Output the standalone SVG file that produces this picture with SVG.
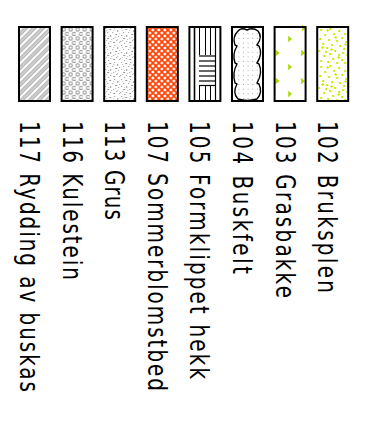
<svg xmlns="http://www.w3.org/2000/svg" width="372" height="427" viewBox="0 0 372 427">
<style>
.frame{fill:none;stroke:#000;stroke-width:2}
.lbl{font-family:"DejaVu Sans",sans-serif;font-size:20px;fill:#000}
.ln{stroke:#000;fill:none}
</style>
<defs>
<pattern id="p117" width="6" height="6" patternUnits="userSpaceOnUse" patternTransform="rotate(45)">
<line x1="1" y1="0" x2="1" y2="6" stroke="#999" stroke-width="1.2"/>
<line x1="3.2" y1="0" x2="3.2" y2="6" stroke="#999" stroke-width="1.2"/>
</pattern>
<pattern id="p116" x="61.6" y="27" width="7" height="9" patternUnits="userSpaceOnUse">
<circle cx="2" cy="2.5" r="1.7" fill="none" stroke="#999" stroke-width="1.1"/>
<circle cx="5.5" cy="7" r="1.7" fill="none" stroke="#999" stroke-width="1.1"/>
</pattern>
<pattern id="p113" x="104.2" y="27" width="16" height="17" patternUnits="userSpaceOnUse">
<g fill="#999">
<rect x="1" y="1" width="1" height="1"/><rect x="5" y="2" width="2" height="1"/><rect x="10" y="1" width="1" height="1"/>
<rect x="13" y="3" width="1" height="2"/><rect x="3" y="5" width="1" height="1"/><rect x="8" y="5" width="1" height="1"/>
<rect x="11" y="7" width="2" height="1"/><rect x="1" y="8" width="1" height="1"/><rect x="6" y="8" width="1" height="2"/>
<rect x="14" y="9" width="1" height="1"/><rect x="3" y="11" width="2" height="1"/><rect x="9" y="11" width="1" height="1"/>
<rect x="12" y="13" width="1" height="1"/><rect x="0" y="14" width="1" height="1"/><rect x="6" y="14" width="1" height="1"/>
<rect x="9" y="15" width="2" height="1"/><rect x="15" y="15" width="1" height="1"/><rect x="4" y="16" width="1" height="1"/>
</g>
<g fill="#bbb">
<rect x="2" y="3" width="1" height="1"/><rect x="9" y="3" width="1" height="1"/><rect x="15" y="6" width="1" height="1"/>
<rect x="4" y="9" width="1" height="1"/><rect x="11" y="10" width="1" height="1"/><rect x="7" y="12" width="1" height="1"/>
<rect x="13" y="12" width="1" height="1"/><rect x="2" y="13" width="1" height="1"/>
</g>
</pattern>
<pattern id="p107" x="146.8" y="27" width="6" height="6" patternUnits="userSpaceOnUse">
<rect width="6" height="6" fill="#fff"/>
<path d="M-1,-1L7,7M7,-1L-1,7" stroke="#ff4000" stroke-width="1.7"/>
</pattern>
<pattern id="pdots" x="232" y="27" width="4.6" height="4.6" patternUnits="userSpaceOnUse">
<rect width="4.6" height="4.6" fill="#fff"/>
<circle cx="2.3" cy="2.3" r="0.55" fill="#999"/>
</pattern>
<pattern id="p102" x="317.2" y="27" width="31" height="37" patternUnits="userSpaceOnUse">
<g fill="#c6f000">
<rect x="3" y="2" width="2" height="2"/><rect x="12" y="1" width="2" height="2"/><rect x="21" y="3" width="2" height="2"/>
<rect x="27" y="6" width="2" height="2"/><rect x="7" y="7" width="2" height="2"/><rect x="16" y="6" width="2" height="2"/>
<rect x="24" y="10" width="2" height="2"/><rect x="2" y="11" width="2" height="2"/><rect x="11" y="12" width="2" height="2"/>
<rect x="19" y="13" width="2" height="2"/><rect x="28" y="14" width="2" height="2"/><rect x="5" y="16" width="2" height="2"/>
<rect x="14" y="17" width="2" height="2"/><rect x="22" y="18" width="2" height="2"/><rect x="9" y="20" width="2" height="2"/>
<rect x="26" y="21" width="2" height="2"/><rect x="1" y="23" width="2" height="2"/><rect x="17" y="23" width="2" height="2"/>
<rect x="12" y="26" width="2" height="2"/><rect x="21" y="27" width="2" height="2"/><rect x="29" y="27" width="2" height="2"/>
<rect x="6" y="28" width="2" height="2"/><rect x="15" y="31" width="2" height="2"/><rect x="24" y="32" width="2" height="2"/>
<rect x="3" y="33" width="2" height="2"/><rect x="10" y="34" width="2" height="2"/><rect x="19" y="35" width="2" height="2"/>
<rect x="27" y="35" width="2" height="2"/><rect x="8" y="24" width="2" height="2"/><rect x="25" y="25" width="2" height="2"/>
<path d="M9,3h1v-1h1v1h1v1h-1v1h-1v-1h-1z"/><path d="M17,10h1v-1h1v1h1v1h-1v1h-1v-1h-1z"/>
<path d="M4,20h1v-1h1v1h1v1h-1v1h-1v-1h-1z"/><path d="M20,30h1v-1h1v1h1v1h-1v1h-1v-1h-1z"/>
<path d="M13,22h1v-1h1v1h1v1h-1v1h-1v-1h-1z"/><path d="M27,17h1v-1h1v1h1v1h-1v1h-1v-1h-1z"/>
</g>
</pattern>
<path id="tuft" d="M3,0L0,0M3,0L0,-2.5M3,0L0,2.5M1.5,0L3.5,0" stroke="#a8d800" stroke-width="1.3" fill="none"/>
</defs>

<g id="n117">
<rect x="19" y="27" width="31" height="74" fill="url(#p117)"/>
<rect class="frame" x="19" y="27" width="31" height="74"/>
<text class="lbl" transform="translate(20,121) rotate(90) scale(1,1.3)" textLength="271" lengthAdjust="spacing">117 Rydding av buskas</text>
</g>
<g id="n116">
<rect x="61.6" y="27" width="31" height="74" fill="url(#p116)"/>
<rect class="frame" x="61.6" y="27" width="31" height="74"/>
<text class="lbl" transform="translate(62.6,121) rotate(90) scale(1,1.3)" textLength="159" lengthAdjust="spacing">116 Kulestein</text>
</g>
<g id="n113">
<rect x="104.2" y="27" width="31" height="74" fill="url(#p113)"/>
<rect class="frame" x="104.2" y="27" width="31" height="74"/>
<text class="lbl" transform="translate(105.2,121) rotate(90) scale(1,1.3)" textLength="99" lengthAdjust="spacing">113 Grus</text>
</g>
<g id="n107">
<rect x="146.8" y="27" width="31" height="74" fill="url(#p107)"/>
<rect class="frame" x="146.8" y="27" width="31" height="74"/>
<text class="lbl" transform="translate(147.8,121) rotate(90) scale(1,1.3)" textLength="270" lengthAdjust="spacing">107 Sommerblomstbed</text>
</g>
<g id="n105">
<rect x="189.4" y="27" width="31" height="74" fill="#fff"/>
<g class="ln">
<line x1="194.5" y1="27" x2="194.5" y2="101" stroke-width="1.6"/>
<line x1="215.5" y1="27" x2="215.5" y2="101" stroke-width="1.2"/>
<line x1="199.5" y1="27" x2="199.5" y2="55" stroke-width="1"/>
<line x1="205.5" y1="27" x2="205.5" y2="55" stroke-width="1"/>
<line x1="210.5" y1="27" x2="210.5" y2="55" stroke-width="1"/>
<line x1="199.5" y1="86" x2="199.5" y2="101" stroke-width="1"/>
<line x1="205.5" y1="86" x2="205.5" y2="101" stroke-width="1"/>
<line x1="210.5" y1="86" x2="210.5" y2="101" stroke-width="1"/>
<line x1="199" y1="56" x2="215.5" y2="56" stroke-width="1.2"/>
<line x1="199" y1="61" x2="215.5" y2="61" stroke-width="1.2"/>
<line x1="199" y1="66" x2="215.5" y2="66" stroke-width="1.2"/>
<line x1="199" y1="71" x2="215.5" y2="71" stroke-width="1.2"/>
<line x1="199" y1="76" x2="215.5" y2="76" stroke-width="1.2"/>
<line x1="199" y1="81" x2="215.5" y2="81" stroke-width="1.2"/>
<line x1="199" y1="85.5" x2="215.5" y2="85.5" stroke-width="1.2"/>
</g>
<rect class="frame" x="189.4" y="27" width="31" height="74"/>
<text class="lbl" transform="translate(190.4,121) rotate(90) scale(1,1.3)" textLength="258" lengthAdjust="spacing">105 Formklippet hekk</text>
</g>
<g id="n104">
<rect x="232" y="27" width="31" height="74" fill="#fff"/>
<path d="M238,31Q241,27 247,30Q253,27 258,31Q263,37 257,45L259,46Q263,54 257,63L259,64Q263,73 257,83L259,84Q263,93 257,99Q247,102 238,99Q232,93 237,84L235,83Q232,73 237,64L235,63Q232,54 237,46L235,45Q232,37 238,31Z" fill="url(#pdots)" stroke="#000" stroke-width="1.4"/>
<rect class="frame" x="232" y="27" width="31" height="74"/>
<text class="lbl" transform="translate(233,121) rotate(90) scale(1,1.3)" textLength="153" lengthAdjust="spacing">104 Buskfelt</text>
</g>
<g id="n103">
<rect x="274.6" y="27" width="31" height="74" fill="#fff"/>
<use href="#tuft" x="288" y="39"/>
<use href="#tuft" x="275.5" y="53"/>
<use href="#tuft" x="301" y="53"/>
<use href="#tuft" x="288" y="67"/>
<use href="#tuft" x="275.5" y="81"/>
<use href="#tuft" x="301" y="81"/>
<use href="#tuft" x="288" y="94"/>
<use href="#tuft" x="302" y="28"/>
<rect class="frame" x="274.6" y="27" width="31" height="74"/>
<text class="lbl" transform="translate(275.6,121) rotate(90) scale(1,1.3)" textLength="177" lengthAdjust="spacing">103 Grasbakke</text>
</g>
<g id="n102">
<rect x="317.2" y="27" width="31" height="74" fill="#fff"/>
<rect x="317.2" y="27" width="31" height="74" fill="url(#p102)"/>
<rect class="frame" x="317.2" y="27" width="31" height="74"/>
<text class="lbl" transform="translate(318.2,121) rotate(90) scale(1,1.3)" textLength="172" lengthAdjust="spacing">102 Bruksplen</text>
</g>
<g id="connectors"/>
</svg>
